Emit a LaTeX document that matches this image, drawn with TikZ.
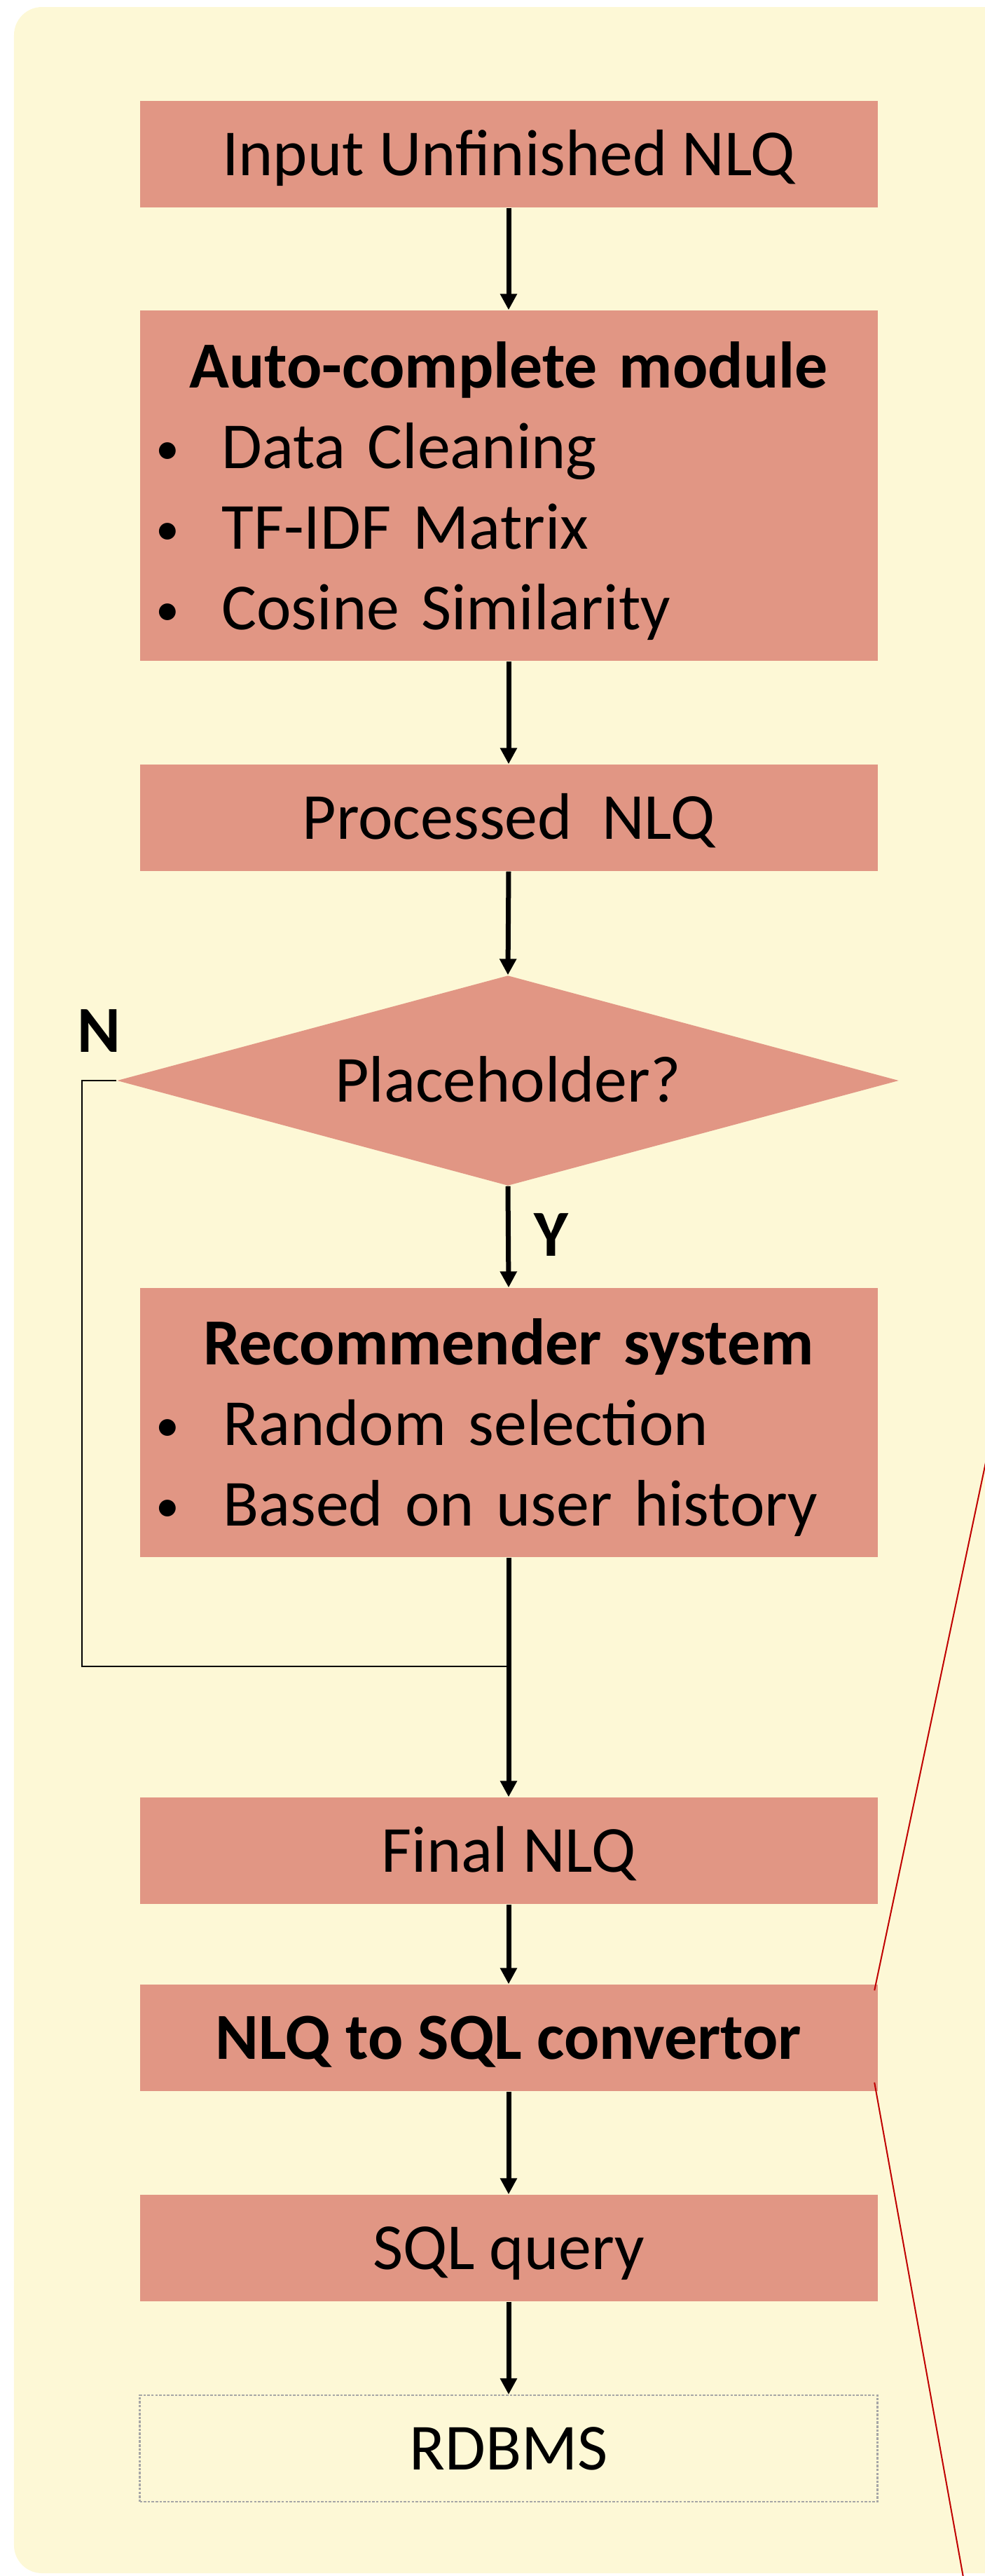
\documentclass[tikz,border=0pt]{standalone}
\usepackage{fontspec}
\setmainfont{Carlito}
\usetikzlibrary{arrows.meta,shapes.geometric}

\definecolor{panelbg}{HTML}{FDF8D6}
\definecolor{boxfill}{HTML}{E19684}
\definecolor{zoomred}{HTML}{C00000}
\newcommand{\itembul}[1]{\makebox[#1][l]{\raisebox{0.06cm}{\scalebox{0.72}{•}}}}

\begin{document}
\begin{tikzpicture}[
    x=1cm,y=1cm,
    every node/.style={font=\fontsize{26.7pt}{1.15cm}\selectfont},
    box/.style={fill=boxfill, inner sep=0pt, minimum width=10.53cm, minimum height=1.52cm,
        text height=0.6cm, text depth=0cm, align=center},
    listbox/.style={box, inner xsep=0.23cm, text width=10.07cm, align=left},
    dbbox/.style={box, fill=none, draw=black!35, line width=0.6pt, dash pattern=on 1pt off 0.6pt},
    decision/.style={diamond, aspect=3.72, fill=boxfill, inner sep=0pt,
        minimum width=11.16cm, minimum height=3.00cm, text height=0.6cm, text depth=0cm},
    flow/.style={-{Triangle[length=0.23cm,width=0.23cm]}, line width=0.07cm},
    loopline/.style={line width=0.02cm},
    zoomline/.style={draw=zoomred, line width=0.02cm},
    yn/.style={font=\fontsize{26.7pt}{1.15cm}\selectfont\bfseries}
]
    \clip (0,0) rectangle (14.06,-36.76);
    \fill[panelbg, rounded corners=0.4cm] (0.20,-0.10) rectangle (14.50,-36.72);

    \node[box] (inp) at (7.26,-2.20) {Input Unfinished NLQ};
    \node[listbox, text height=1.10cm, text depth=3.90cm] (auto) at (7.26,-6.93) {%
        {\centering\bfseries Auto-complete module\par}
        \itembul{0.94cm}Data Cleaning\par
        \itembul{0.94cm}TF-IDF Matrix\par
        \itembul{0.94cm}Cosine Similarity};
    \node[box] (proc) at (7.26,-11.67) {Processed\ \ NLQ};
    \node[decision] (ph) at (7.25,-15.42) {Placeholder?};
    \node[listbox, text height=1.09cm, text depth=2.75cm] (rec) at (7.26,-20.30) {%
        {\centering\bfseries Recommender system\par}
        \itembul{0.96cm}Random selec\hbox{}tion\par
        \itembul{0.96cm}Based on user history};
    \node[box] (final) at (7.26,-26.41) {Final NLQ};
    \node[box] (conv) at (7.26,-29.08) {\bfseries NLQ to SQL convertor};
    \node[box] (sql) at (7.26,-32.08) {SQL query};
    \node[dbbox] (db) at (7.26,-34.94) {RDBMS};

    \node[yn] (no) at (1.41,-14.71) {N};
    \node[yn] (yes) at (7.87,-17.62) {Y};

    \foreach \a/\b in {inp/auto,auto/proc,proc/ph,ph/rec,rec/final,final/conv,conv/sql,sql/db} {
        \draw[flow] (\a.south) -- (\b.north);
    }

    % N branch back into the main line
    \coordinate (nleft) at (1.17,-23.78);
    \coordinate (join) at (7.26,-23.78);
    \draw[loopline] (ph.west) -| (nleft) -- (join);

    % zoom lines to the right
    \coordinate (zt) at (14.30,-19.78);
    \coordinate (zb) at (13.79,-37.00);
    \draw[zoomline] ([xshift=-0.05cm,yshift=-0.09cm]conv.north east) -- (zt);
    \draw[zoomline] ([xshift=-0.05cm,yshift=0.13cm]conv.south east) -- (zb);
\end{tikzpicture}
\end{document}
